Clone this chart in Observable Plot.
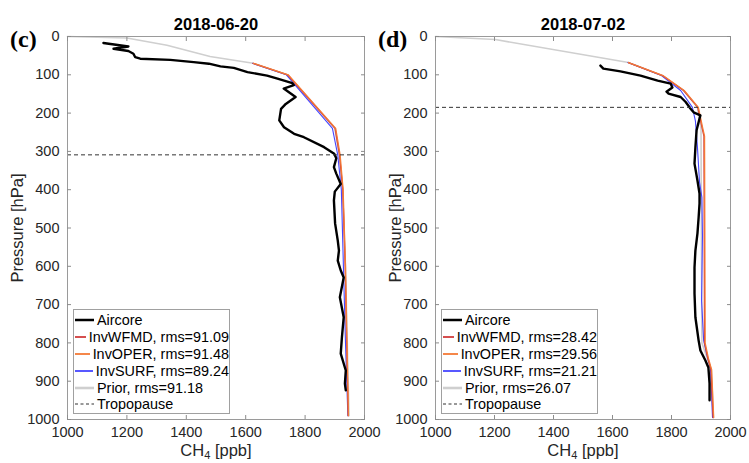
<!DOCTYPE html>
<html><head><meta charset="utf-8">
<script src="https://cdn.jsdelivr.net/npm/d3@7"></script>
<script src="https://cdn.jsdelivr.net/npm/@observablehq/plot@0.6"></script>
<style>
body{margin:0;background:#fff;}
#root{position:relative;width:749px;height:463px;font-family:"Liberation Sans",Arial,sans-serif;color:#262626;overflow:hidden;background:#fff}
.abs{position:absolute;white-space:nowrap;line-height:1}
.panel{position:absolute;top:0}
.title{font-weight:bold;font-size:16.5px;color:#000;transform:translateX(-50%)}
.plabel{font-family:"Liberation Serif","DejaVu Serif",serif;font-weight:bold;font-size:24px;color:#000}
.xlabel{font-size:16.5px;transform:translateX(-50%)}
.xlabel sub{font-size:11px;vertical-align:-3px;line-height:0}
.ylabel{font-size:16.5px;transform:translate(-50%,-50%) rotate(-90deg)}
.legend{position:absolute;border:1px solid #a0a0a0;background:#fff;font-size:14.4px;color:#000;box-sizing:border-box;padding-top:2px}
.row{display:flex;align-items:center;height:16.8px;white-space:nowrap}
.row svg{margin-left:1px;margin-right:3px}
</style>
</head><body>
<div id="root"></div>
<script>
// ---- data (pressure hPa, CH4 ppb) ----
const xTicks = [1000, 1200, 1400, 1600, 1800, 2000];
const yTicks = [0, 100, 200, 300, 400, 500, 600, 700, 800, 900, 1000];
const seriesNames = ["Aircore", "InvWFMD", "InvOPER", "InvSURF", "Prior", "Tropopause"];
const seriesColors = ["#000000", "#d13b3b", "#f47a36", "#4646ff", "#cfcfcf", "#333333"];

// Panel (c) 2018-06-20
const titleC = "2018-06-20";
const rmsC = ["91.09", "91.48", "89.24", "91.18"];
const tropC = 309;
const aircoreC = [[17,1121],[26,1205],[32,1155],[38,1205],[45,1222],[54,1228],[58,1245],[61,1346],[67,1425],[71,1476],[78,1515],[82,1560],[93,1606],[102,1672],[110,1707],[122,1757],[127,1762],[136,1728],[158,1768],[176,1735],[189,1719],[219,1713],[237,1729],[254,1763],[263,1796],[289,1864],[306,1898],[318,1905],[341,1897],[358,1905],[385,1920],[405,1900],[428,1897],[488,1901],[533,1910],[559,1914],[585,1910],[611,1920],[629,1930],[681,1917],[733,1930],[785,1924],[828,1920],[872,1937],[906,1934],[924,1937]];
const wfmdC = [[70,1625],[100,1741],[240,1901],[310,1916],[400,1927],[600,1935],[800,1940],[990,1945]];
const operC = [[70,1626],[100,1743],[240,1903],[310,1918],[400,1928],[600,1936],[800,1941],[990,1946]];
const surfC = [[70,1623],[100,1737],[240,1892],[310,1910],[400,1922],[600,1929],[800,1936],[990,1944]];
const priorC = [[0,1000],[4,1200],[23,1335],[52,1480],[70,1625],[100,1740],[240,1900],[310,1915],[400,1926],[600,1936],[800,1942],[990,1948]];

// Panel (d) 2018-07-02
const titleD = "2018-07-02";
const rmsD = ["28.42", "29.56", "21.21", "26.07"];
const tropD = 185;
const aircoreD = [[76,1559],[84,1569],[91,1627],[102,1695],[115,1753],[123,1797],[133,1803],[144,1783],[149,1790],[158,1831],[171,1848],[188,1864],[198,1875],[206,1898],[214,1895],[245,1885],[290,1881],[332,1878],[376,1888],[410,1895],[436,1895],[472,1892],[514,1888],[559,1881],[603,1878],[671,1878],[733,1881],[794,1892],[820,1898],[846,1915],[864,1925],[906,1929],[950,1929]];
const wfmdD = [[68,1654],[102,1769],[141,1841],[185,1889],[240,1904],[260,1910],[800,1912],[840,1923],[870,1934],[995,1941]];
const operD = [[68,1654],[102,1771],[141,1843],[185,1891],[240,1906],[260,1912],[800,1914],[840,1925],[870,1936],[995,1943]];
const surfD = [[68,1652],[102,1766],[141,1831],[185,1871],[220,1881],[290,1888],[380,1895],[420,1903],[520,1905],[690,1902],[794,1909],[838,1922],[864,1932],[995,1939]];
const priorD = [[0,1000],[8,1203],[68,1654],[102,1769],[141,1841],[185,1888],[240,1900],[800,1903],[870,1935],[995,1942]];

const rows = a => a.map(([p, c]) => ({p, c}));

function panel({air, wfmd, oper, surf, prior, trop, width, marginLeft, marginRight}) {
  const tick = {stroke: "#8c8c8c"};
  return Plot.plot({
    width, height: 463, marginLeft, marginRight, marginTop: 36, marginBottom: 44,
    style: {fontFamily: "Liberation Sans, Arial, sans-serif", fontSize: "14.5px", color: "#262626", background: "transparent", overflow: "visible"},
    x: {domain: [1000, 2000]},
    y: {domain: [0, 1000], reverse: true},
    marks: [
      Plot.line(rows(prior), {x: "c", y: "p", stroke: seriesColors[4], strokeWidth: 1.6}),
      Plot.line(rows(surf), {x: "c", y: "p", stroke: seriesColors[3], strokeWidth: 1.1}),
      Plot.line(rows(wfmd), {x: "c", y: "p", stroke: seriesColors[1], strokeWidth: 1.3}),
      Plot.line(rows(oper), {x: "c", y: "p", stroke: seriesColors[2], strokeWidth: 1.3}),
      Plot.line(rows(air), {x: "c", y: "p", stroke: seriesColors[0], strokeWidth: 2.4}),
      Plot.ruleY([trop], {stroke: seriesColors[5], strokeDasharray: "4,3", strokeWidth: 1}),
      Plot.frame({stroke: "#9a9a9a"}),
      Plot.axisX(xTicks, {anchor: "bottom", tickSize: 0, tickPadding: 7, label: null, tickFormat: d => String(d)}),
      Plot.axisY(yTicks, {anchor: "left", tickSize: 0, tickPadding: 8, label: null, tickFormat: d => String(d)}),
      Plot.axisX(xTicks, {anchor: "bottom", tickSize: -4, label: null, tickFormat: () => "", ...tick}),
      Plot.axisX(xTicks, {anchor: "top", tickSize: -4, label: null, tickFormat: () => "", ...tick}),
      Plot.axisY(yTicks, {anchor: "left", tickSize: -4, label: null, tickFormat: () => "", ...tick}),
      Plot.axisY(yTicks, {anchor: "right", tickSize: -4, label: null, tickFormat: () => "", ...tick})
    ]
  });
}

function legend(rms, left) {
  const div = document.createElement("div");
  div.className = "legend";
  div.style.left = left + "px";
  div.style.top = "309px";
  div.style.width = "157px";
  div.style.height = "105px";
  const labels = [seriesNames[0], ...rms.map((r, i) => `${seriesNames[i + 1]}, rms=${r}`), seriesNames[5]];
  const widths = [2.5, 1.8, 1.8, 1.8, 2.6, 1];
  labels.forEach((lab, i) => {
    const row = document.createElement("div");
    row.className = "row";
    const dash = i === 5 ? ' stroke-dasharray="3,2.5"' : "";
    row.innerHTML = `<svg width="19" height="6"><line x1="0" x2="19" y1="3" y2="3" stroke="${seriesColors[i]}" stroke-width="${widths[i]}"${dash}/></svg><span>${lab}</span>`;
    div.appendChild(row);
  });
  return div;
}

const root = document.getElementById("root");
function add(html, cls, left, top) {
  const d = document.createElement("div");
  d.className = "abs " + cls;
  d.style.left = left + "px";
  d.style.top = top + "px";
  d.innerHTML = html;
  root.appendChild(d);
}

const pc = panel({air: aircoreC, wfmd: wfmdC, oper: operC, surf: surfC, prior: priorC, trop: tropC, width: 374, marginLeft: 67, marginRight: 10});
pc.classList.add("panel"); pc.style.left = "0px";
root.appendChild(pc);
const pd = panel({air: aircoreD, wfmd: wfmdD, oper: operD, surf: surfD, prior: priorD, trop: tropD, width: 375, marginLeft: 61, marginRight: 19});
pd.classList.add("panel"); pd.style.left = "374px";
root.appendChild(pd);

root.appendChild(legend(rmsC, 73));
root.appendChild(legend(rmsD, 441));

add(titleC, "title", 216, 16);
add(titleD, "title", 583, 16);
add("(c)", "plabel", 10, 27);
add("(d)", "plabel", 378, 27);
add("CH<sub>4</sub> [ppb]", "xlabel", 216, 442);
add("CH<sub>4</sub> [ppb]", "xlabel", 583, 442);
add("Pressure [hPa]", "ylabel", 17, 228);
add("Pressure [hPa]", "ylabel", 395, 228);
</script>
</body></html>
